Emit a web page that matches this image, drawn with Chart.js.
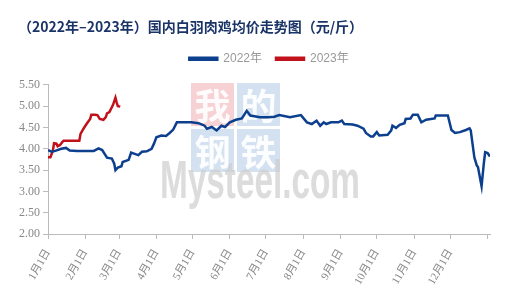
<!DOCTYPE html>
<html lang="zh">
<head>
  <meta charset="UTF-8">
  <title>国内白羽肉鸡均价走势图</title>
  <script src="https://cdn.jsdelivr.net/npm/chart.js"></script>
  <style>
    body { margin: 0; background: #fff; }
    #wrap { width: 522px; height: 295px; }
  </style>
</head>
<body>
  <div id="wrap"><canvas id="myChart" width="522" height="295"></canvas></div>

  <script>
    // x = day of year (0 = 1月1日)
    const tickDays = [0, 31, 59, 90, 120, 151, 181, 212, 243, 273, 304, 334, 365];
    const tickLabels = ['1月1日', '2月1日', '3月1日', '4月1日', '5月1日', '6月1日',
      '7月1日', '8月1日', '9月1日', '10月1日', '11月1日', '12月1日', ''];

    const days2022 = [0, 3, 6, 11, 15, 18, 24, 30, 38, 42, 45, 49, 53, 55, 56, 58, 61, 62, 67, 69,
      72, 75, 78, 82, 86, 88, 90, 94, 98, 101, 104, 107, 112, 119, 125, 127, 130, 132, 136, 140,
      144, 147, 151, 156, 161, 165, 168, 176, 183, 188, 192, 201, 210, 215, 219, 223, 226, 229, 231, 235,
      241, 244, 246, 253, 257, 262, 264, 268, 270, 273, 275, 282, 285, 286, 289, 292, 296, 297, 301, 303,
      307, 310, 314, 321, 322, 332, 335, 338, 342, 347, 350, 351, 354, 356, 357, 360, 362, 363, 365, 367];
    const price2022 = [3.97, 3.93, 3.95, 4.00, 4.02, 3.96, 3.95, 3.95, 3.95, 4.01, 3.97, 3.79, 3.77, 3.65, 3.50, 3.56, 3.59, 3.69, 3.74, 3.91,
      3.88, 3.85, 3.93, 3.94, 4.00, 4.12, 4.27, 4.31, 4.30, 4.37, 4.45, 4.62, 4.62, 4.62, 4.60, 4.58, 4.54, 4.47, 4.51, 4.43,
      4.54, 4.51, 4.62, 4.68, 4.71, 4.89, 4.78, 4.74, 4.74, 4.75, 4.79, 4.74, 4.79, 4.62, 4.58, 4.66, 4.54, 4.62, 4.58, 4.62,
      4.62, 4.66, 4.58, 4.57, 4.54, 4.47, 4.37, 4.29, 4.29, 4.39, 4.31, 4.33, 4.43, 4.54, 4.49, 4.56, 4.60, 4.70, 4.71, 4.80,
      4.80, 4.62, 4.68, 4.71, 4.78, 4.78, 4.44, 4.37, 4.39, 4.44, 4.48, 4.43, 3.80, 3.61, 3.57, 3.12, 3.69, 3.92, 3.90, 3.82];

    const days2023 = [0, 2, 4, 5, 7, 8, 10, 12, 13, 26, 27, 29, 31, 33, 35, 36, 39, 41, 43, 46,
      48, 49, 51, 54, 56, 57, 58, 60];
    const price2023 = [3.80, 3.80, 3.95, 4.13, 4.12, 4.06, 4.09, 4.16, 4.19, 4.19, 4.35, 4.45, 4.54, 4.62, 4.70, 4.80, 4.80, 4.79, 4.70, 4.68,
      4.74, 4.83, 4.86, 5.03, 5.20, 5.09, 5.00, 4.99];

    function toPoints(xs, ys) {
      return xs.map((x, i) => ({ x: x, y: ys[i] }));
    }

    // Mysteel watermark behind the lines
    const watermark = {
      id: 'watermark',
      beforeDatasetsDraw(chart) {
        const c = chart.ctx;
        c.save();
        const boxes = [
          { x: 191, y: 83, t: '我', col: 'rgba(240,165,172,0.5)' },
          { x: 237, y: 83, t: '的', col: 'rgba(170,195,225,0.5)' },
          { x: 191, y: 129, t: '钢', col: 'rgba(170,195,225,0.5)' },
          { x: 237, y: 129, t: '铁', col: 'rgba(170,195,225,0.5)' }
        ];
        c.textAlign = 'center';
        c.textBaseline = 'middle';
        c.font = 'bold 36px "Noto Sans CJK SC"';
        boxes.forEach(b => {
          c.fillStyle = b.col;
          c.fillRect(b.x, b.y, 43, 43);
          c.fillStyle = 'rgba(255,255,255,0.92)';
          c.fillText(b.t, b.x + 21.5, b.y + 23);
        });
        c.font = 'bold 53px "Liberation Sans"';
        c.textAlign = 'left';
        c.textBaseline = 'alphabetic';
        const w = c.measureText('Mysteel.com').width;
        c.translate(160, 198);
        c.scale(200 / w, 1);
        c.fillStyle = 'rgba(205,205,205,0.7)';
        c.fillText('Mysteel.com', 0, 0);
        c.restore();
      }
    };

    // extra room between legend and plot
    const legendGap = {
      id: 'legendGap',
      beforeInit(chart) {
        const fit = chart.legend.fit;
        chart.legend.fit = function () {
          fit.bind(chart.legend)();
          this.height += 10;
        };
      }
    };

    const ctx = document.getElementById('myChart').getContext('2d');
    const myChart = new Chart(ctx, {
      type: 'line',
      data: {
        datasets: [{
          label: '2022年',
          data: toPoints(days2022, price2022),
          borderColor: '#0c3f8d',
          backgroundColor: '#0c3f8d',
          borderWidth: 2.5,
          pointRadius: 0,
          tension: 0
        }, {
          label: '2023年',
          data: toPoints(days2023, price2023),
          borderColor: '#c1121c',
          backgroundColor: '#c1121c',
          borderWidth: 2.5,
          pointRadius: 0,
          tension: 0
        }]
      },
      options: {
        responsive: false,
        animation: false,
        devicePixelRatio: 1,
        layout: { padding: { left: 18, right: 32, top: 0, bottom: 0 } },
        plugins: {
          title: {
            display: true,
            text: '（2022年–2023年）国内白羽肉鸡均价走势图（元/斤）',
            align: 'start',
            color: '#1b3468',
            font: { family: '"Noto Sans CJK SC"', size: 14, weight: 'bold' },
            padding: { top: 18, bottom: 4 }
          },
          legend: {
            fullSize: false,
            labels: {
              boxWidth: 28,
              boxHeight: 2,
              padding: 14,
              color: '#999',
              font: { family: '"Liberation Sans", "Noto Sans CJK SC"', size: 12 }
            }
          },
          tooltip: { enabled: false }
        },
        scales: {
          x: {
            type: 'linear',
            min: 0,
            max: 367,
            afterBuildTicks(axis) {
              axis.ticks = tickDays.map(v => ({ value: v }));
            },
            ticks: {
              autoSkip: false,
              minRotation: 60,
              maxRotation: 60,
              padding: 8,
              color: '#888',
              font: { family: '"Liberation Serif", "Noto Sans CJK SC"', size: 11 },
              callback: (v, i) => tickLabels[i]
            },
            grid: { drawOnChartArea: false, tickLength: 5, color: '#bbb' },
            border: { color: '#bbb' }
          },
          y: {
            min: 2,
            max: 5.5,
            afterFit(axis) { axis.width = 30; },
            ticks: {
              stepSize: 0.5,
              color: '#888',
              padding: 3,
              font: { family: '"Liberation Serif"', size: 12 },
              callback: v => v.toFixed(2)
            },
            grid: { drawOnChartArea: false, tickLength: 5, color: '#bbb' },
            border: { color: '#bbb' }
          }
        }
      },
      plugins: [watermark, legendGap]
    });
  </script>
</body>
</html>
